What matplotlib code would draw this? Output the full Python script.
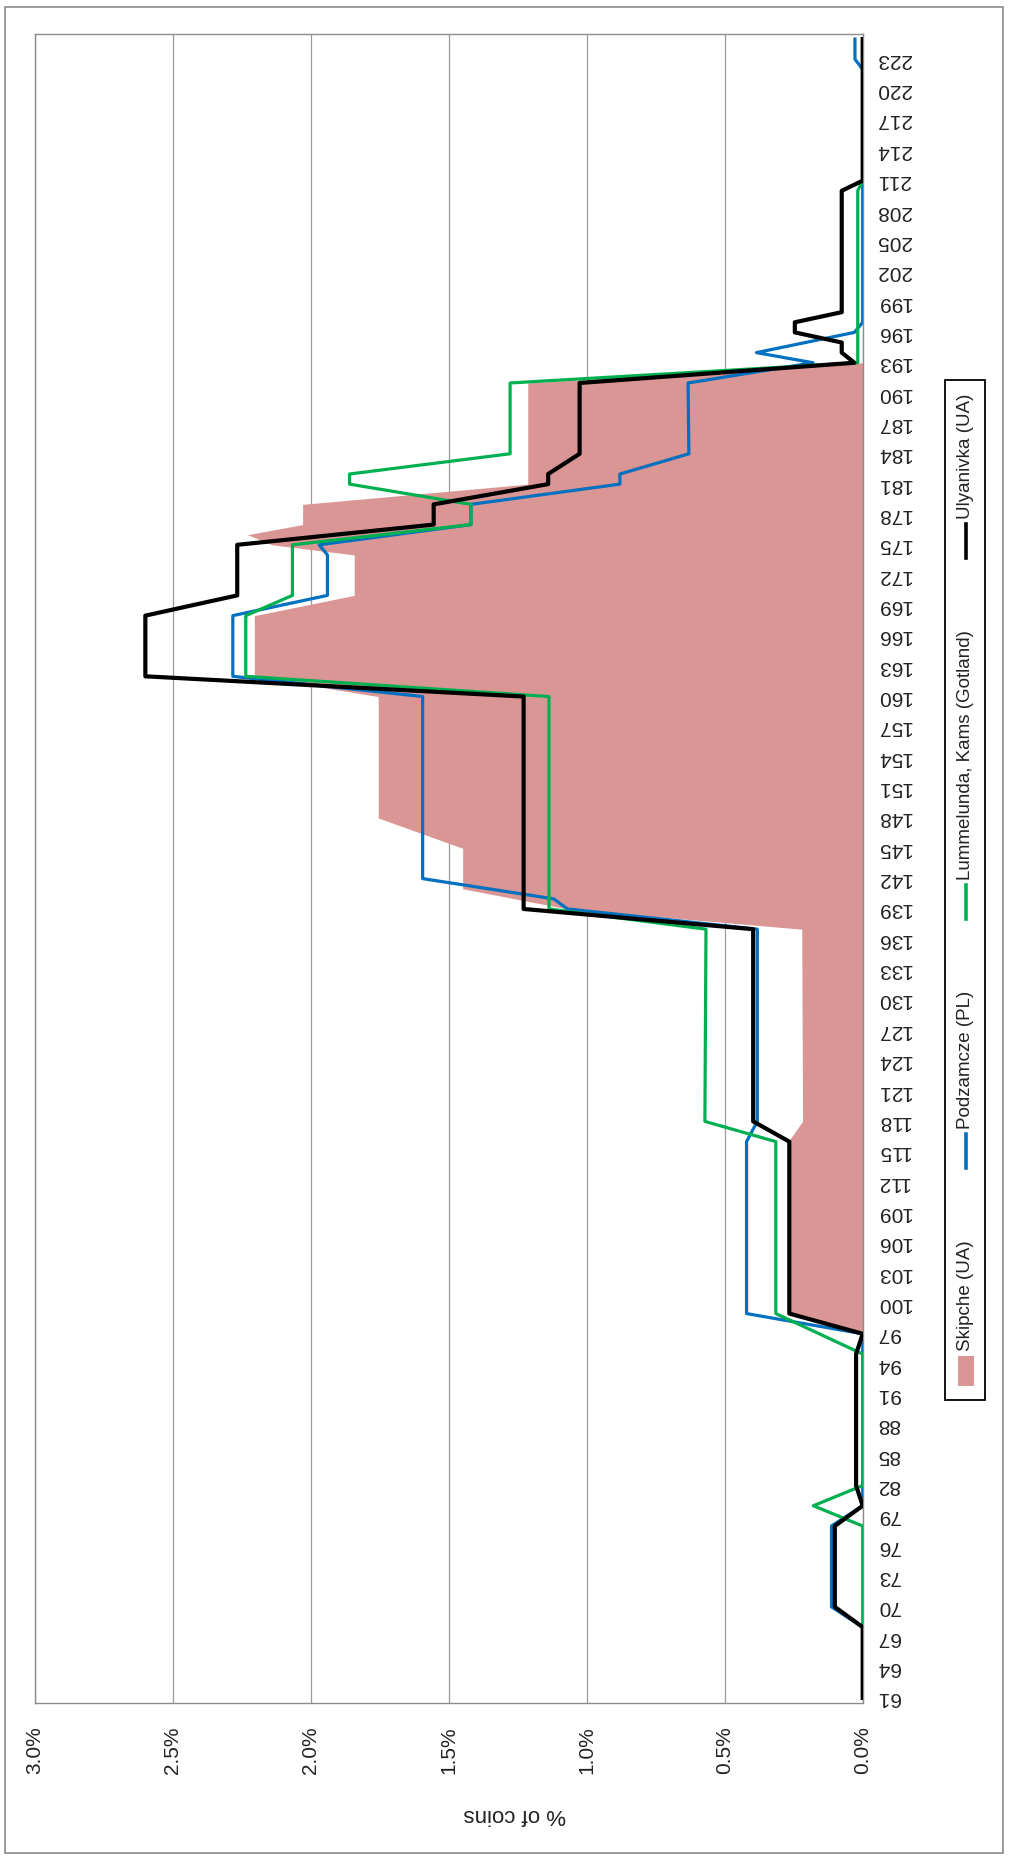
import matplotlib
matplotlib.use('Agg')
import matplotlib.pyplot as plt
import numpy as np
from matplotlib.lines import Line2D
from matplotlib.patches import Rectangle
from matplotlib.ticker import FuncFormatter

plt.rcParams['font.family'] = ['Liberation Sans', 'DejaVu Sans']

W, H = 1009, 1860

# ---------------------------------------------------------------------------
# Data: % of coins per year (corner points of each series as drawn)
# ---------------------------------------------------------------------------
SKIPCHE_YEARS = [61, 97, 99, 116, 118, 137, 139, 141, 145, 148, 160, 162, 168,
                 170, 174, 175, 176, 177, 179, 181, 191, 193, 225]
SKIPCHE_PCT = [0, 0, 0.27, 0.27, 0.218, 0.221, 1.07, 1.45, 1.45, 1.756, 1.756,
               2.205, 2.205, 1.843, 1.843, 2.14, 2.23, 2.03, 2.03, 1.214,
               1.214, 0, 0]

PODZAMCZE_YEARS = [61, 68, 70, 78, 80, 97, 99, 116, 118, 137, 139, 140, 142,
                   160, 162, 168, 170, 174, 175, 177, 179, 181, 182, 184, 191,
                   193, 194, 196, 197, 222, 223, 225]
PODZAMCZE_PCT = [0, 0, 0.113, 0.113, 0, 0, 0.421, 0.421, 0.382, 0.382, 1.07,
                 1.12, 1.595, 1.595, 2.283, 2.283, 1.94, 1.94, 1.97, 1.42,
                 1.42, 0.88, 0.88, 0.63, 0.633, 0.18, 0.385, 0.03, 0, 0,
                 0.028, 0.028]

LUMMELUNDA_YEARS = [61, 78, 80, 82, 95, 99, 116, 118, 137, 139, 160, 162, 168,
                    170, 175, 177, 179, 181, 182, 184, 191, 193, 210, 211, 225]
LUMMELUNDA_PCT = [0, 0, 0.179, 0, 0, 0.315, 0.315, 0.572, 0.568, 1.137, 1.137,
                  2.236, 2.236, 2.067, 2.067, 1.42, 1.42, 1.86, 1.86, 1.278,
                  1.278, 0.018, 0.018, 0, 0]

ULYANIVKA_YEARS = [61, 68, 70, 78, 80, 82, 95, 97, 99, 116, 118, 137, 139, 160,
                   162, 168, 170, 175, 177, 179, 181, 182, 184, 191, 193, 194,
                   195, 196, 197, 198, 210, 211, 225]
ULYANIVKA_PCT = [0, 0, 0.101, 0.101, 0, 0.024, 0.024, 0, 0.266, 0.266, 0.397,
                 0.397, 1.229, 1.229, 2.60, 2.60, 2.267, 2.267, 1.555, 1.555,
                 1.14, 1.14, 1.026, 1.026, 0.03, 0.076, 0.076, 0.246, 0.246,
                 0.076, 0.076, 0, 0]

YEAR_TICKS = list(range(61, 224, 3))
PCT_TICKS = [0.0, 0.5, 1.0, 1.5, 2.0, 2.5, 3.0]

LABELS = ['Skipche (UA)', 'Podzamcze (PL)', 'Lummelunda, Kams (Gotland)',
          'Ulyanivka (UA)']

PINK = '#D99694'
BLUE = '#0070C0'
GREEN = '#00B050'
BLACK = '#000000'
GRID = '#9a9a9a'

# ---------------------------------------------------------------------------
# Figure (chart is drawn turned a quarter turn: years run upwards,
# percentages grow to the left)
# ---------------------------------------------------------------------------
fig = plt.figure(figsize=(W / 100, H / 100), dpi=100)
ax_l, ax_r, ax_t, ax_b = 35, 862.7, 34, 1703
ax = fig.add_axes([ax_l / W, 1 - ax_b / H, (ax_r - ax_l) / W, (ax_b - ax_t) / H])

ax.fill_betweenx(SKIPCHE_YEARS, 0, SKIPCHE_PCT, color=PINK, lw=0, zorder=2)
ax.plot(PODZAMCZE_PCT, PODZAMCZE_YEARS, color=BLUE, lw=2.3, zorder=3,
        solid_joinstyle='round')
ax.plot(LUMMELUNDA_PCT, LUMMELUNDA_YEARS, color=GREEN, lw=2.3, zorder=4,
        solid_joinstyle='round')
ax.plot(ULYANIVKA_PCT, ULYANIVKA_YEARS, color=BLACK, lw=3.0, zorder=5,
        solid_joinstyle='round')

ax.set_xlim(3.0, 0.0)
ax.set_ylim(60.5, 225.5)

ax.set_xticks(PCT_TICKS)
ax.xaxis.set_major_formatter(FuncFormatter(lambda v, p: f'{v:.1f}%'))
ax.tick_params(axis='x', length=0, labelrotation=90, pad=17, labelsize=15,
               colors='#222222')
ax.grid(axis='x', color=GRID, lw=0.9)
ax.set_axisbelow(True)

ax.set_yticks(YEAR_TICKS)
ax.yaxis.tick_right()
ax.tick_params(axis='y', length=0, labelrotation=180, pad=10, labelsize=15,
               colors='#222222')
for t in ax.get_yticklabels():
    t.set_va('center')

for s in ax.spines.values():
    s.set_color('#8c8c8c')
    s.set_linewidth(1.0)

fig.text(515 / W, 1 - 1814 / H, '% of coins', rotation=180, ha='center',
         va='center', fontsize=16, color='#222222')

# outer chart border
fig.add_artist(Rectangle((5 / W, 7 / H), (1003 - 5) / W, (1853 - 7) / H,
                         transform=fig.transFigure, fill=False,
                         ec='#8a8a8a', lw=1.2))

# ---------------------------------------------------------------------------
# Legend, built by hand so it can run bottom-to-top
# ---------------------------------------------------------------------------
renderer = fig.canvas.get_renderer()
leg_x = 966
box_top, box_bot = 380, 1400
kinds = [('patch', PINK), ('line', BLUE), ('line', GREEN), ('line', BLACK)]
texts = [fig.text(leg_x / W, 0, lab, rotation=90, ha='center', va='bottom',
                  fontsize=13.5, color='#222222') for lab in LABELS]
lengths = [t.get_window_extent(renderer).height for t in texts]
mark_len = {'patch': 30, 'line': 34}
gap_mt, pad = 5, 14
total = sum(lengths) + sum(mark_len[k] for k, _ in kinds) + gap_mt * 4
gap = (box_bot - box_top - 2 * pad - total) / 3

y = box_bot - pad
for (kind, col), t, L in zip(kinds, texts, lengths):
    m = mark_len[kind]
    if kind == 'patch':
        fig.add_artist(Rectangle(((leg_x - 8) / W, 1 - y / H), 16 / W, m / H,
                                 transform=fig.transFigure, fc=col, lw=0))
    else:
        fig.add_artist(Line2D([leg_x / W, leg_x / W],
                              [1 - y / H, 1 - (y - m) / H],
                              transform=fig.transFigure, color=col, lw=2.6))
    y -= m + gap_mt
    t.set_position((leg_x / W, 1 - y / H))
    y -= L + gap

fig.add_artist(Rectangle((945 / W, 1 - box_bot / H), 40 / W,
                         (box_bot - box_top) / H, transform=fig.transFigure,
                         fill=False, ec='black', lw=1.3))

fig.savefig('out.png', dpi=100)
